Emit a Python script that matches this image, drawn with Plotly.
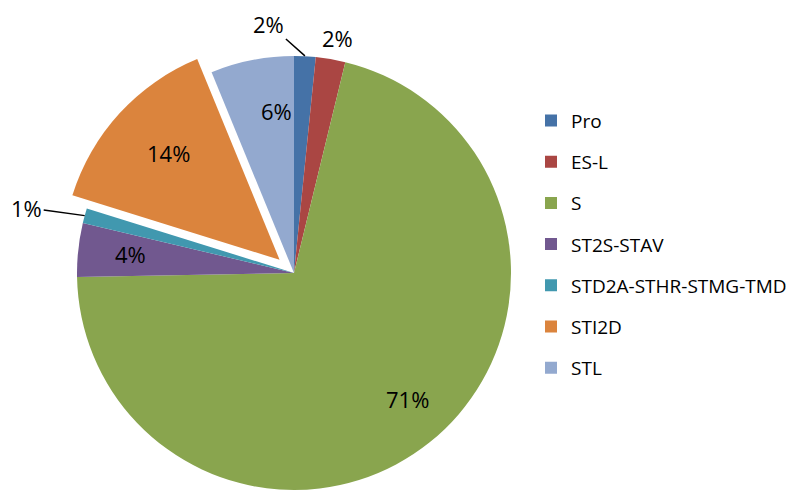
import math
import plotly.graph_objects as go

labels = ["Pro", "ES-L", "S", "ST2S-STAV", "STD2A-STHR-STMG-TMD", "STI2D", "STL"]
values = [1.6, 2.2, 70.9, 4.0, 1.1, 14.0, 6.2]
colors = ["#4572A7", "#AA4643", "#89A54E", "#71588F", "#4198AF", "#DB843D", "#93A9CF"]
pulls = [0, 0, 0, 0, 0, 0.09, 0]
# label placement: "in" = inside at fraction of radius, otherwise (ax, ay) offset for leader line
label_style = ["lead", "out", "in", "in", "lead", "in", "in"]
lead_offsets = {0: (-36, -32), 4: (-58, -8)}

W, H = 787, 546
cx, cy, r = 294, 273, 217
maxpull = max(pulls)
box = 2 * r * (1 + maxpull)
mt = (H - box) / 2
plot_h = H - 2 * mt

def to_paper(px, py):
    return px / W, 1 - (py - mt) / plot_h

fig = go.Figure()
fig.add_trace(go.Pie(
    labels=labels, values=values, sort=False, direction="clockwise", rotation=0,
    marker=dict(colors=colors, line=dict(width=0)),
    pull=pulls, textposition="none",
    domain=dict(x=[(cx - box / 2) / W, (cx + box / 2) / W], y=[0, 1]),
    showlegend=False, hoverinfo="label+percent",
))

total = sum(values)
cum = 0.0
annotations = []
for i, v in enumerate(values):
    mid = (cum + v / 2) / total * 2 * math.pi
    cum += v
    s, c = math.sin(mid), math.cos(mid)
    off = pulls[i] * r
    txt = f"{round(v / total * 100)}%"
    font = dict(family="Open Sans", size=22, color="black")
    if label_style[i] == "in":
        d = 0.84 * r + off
        x, y = to_paper(cx + d * s, cy - d * c)
        annotations.append(dict(x=x, y=y, xref="paper", yref="paper", text=txt,
                                showarrow=False, font=font))
    elif label_style[i] == "out":
        d = r + 38
        x, y = to_paper(cx + d * s, cy - d * c)
        annotations.append(dict(x=x, y=y, xref="paper", yref="paper", text=txt,
                                showarrow=False, font=font))
    else:
        ax, ay = lead_offsets[i]
        x, y = to_paper(cx + r * s, cy - r * c)
        annotations.append(dict(x=x, y=y, xref="paper", yref="paper", text=txt,
                                showarrow=True, arrowhead=0, arrowwidth=1.5,
                                arrowcolor="black", ax=ax, ay=ay, standoff=0,
                                font=font))

for lab, col in zip(labels, colors):
    fig.add_trace(go.Scatter(
        x=[None], y=[None], mode="markers", name=lab, legendgroup=lab,
        marker=dict(symbol="square", size=12, color=col),
    ))

fig.update_layout(
    width=W, height=H,
    margin=dict(l=0, r=0, t=mt, b=mt, autoexpand=False),
    paper_bgcolor="white", plot_bgcolor="white",
    xaxis=dict(visible=False), yaxis=dict(visible=False),
    legend=dict(x=531 / W, y=to_paper(0, 102)[1], xanchor="left", yanchor="top",
                font=dict(family="Open Sans", size=19, color="black"),
                tracegroupgap=13.5, itemwidth=30, bgcolor="rgba(0,0,0,0)"),
    annotations=annotations,
    font=dict(family="Open Sans"),
)
fig.write_html("out.html", config={"displayModeBar": False},
               post_script="document.body.style.margin='0';"
                           "document.documentElement.style.overflow='hidden';"
                           "document.body.style.overflow='hidden';")
